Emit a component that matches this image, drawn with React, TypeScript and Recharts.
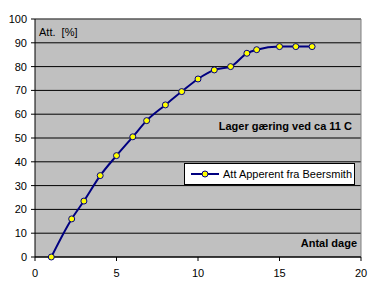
import React from "react";
import {
  LineChart,
  Line,
  XAxis,
  YAxis,
  CartesianGrid,
  ReferenceLine,
} from "recharts";

const days = [1, 2.25, 3, 4, 5, 6, 6.85, 8, 9, 10, 11, 12, 13, 13.6, 15, 16, 17];
const attenuation = [0, 16, 23.5, 34.2, 42.6, 50.5, 57.3, 63.9, 69.5, 74.8, 78.6, 80, 85.6, 87.1, 88.4, 88.4, 88.4];
const xTicks = [0, 5, 10, 15, 20];
const yTicks = [0, 10, 20, 30, 40, 50, 60, 70, 80, 90, 100];
const seriesName = "Att Apperent fra Beersmith";
const yTitle = "Att.  [%]";
const noteText = "Lager gæring ved ca 11 C";
const xTitle = "Antal dage";

const data = days.map((d, i) => ({ day: d, att: attenuation[i] }));

const FONT = "'Liberation Sans', Arial, sans-serif";

const LegendBox = () => (
  <div
    style={{
      position: "absolute",
      left: 184,
      top: 163,
      boxSizing: "border-box",
      width: 171,
      height: 22,
      background: "#fff",
      border: "1px solid #000",
      display: "flex",
      alignItems: "center",
      fontFamily: FONT,
      fontSize: 11,
      color: "#000",
      whiteSpace: "nowrap",
    }}
  >
    <svg width={36} height={10} style={{ marginLeft: 5 }}>
      <line x1={1} y1={5} x2={29} y2={5} stroke="#000080" strokeWidth={2} />
      <circle cx={15} cy={5} r={3} fill="#FFFF00" stroke="#000080" strokeWidth={1} />
    </svg>
    <span style={{ marginLeft: -3 }}>{seriesName}</span>
  </div>
);

export default function App() {
  return (
    <div style={{ position: "absolute", left: 0, top: 0, width: 380, height: 284, background: "#fff" }}>
      <LineChart
        width={380}
        height={284}
        data={data}
        margin={{ top: 19, right: 19, bottom: 0, left: 0 }}
      >
        <CartesianGrid
          vertical={false}
          stroke="#000"
          strokeWidth={1}
          fill="#C0C0C0"
          fillOpacity={1}
        />
        <XAxis
          type="number"
          dataKey="day"
          domain={[0, 20]}
          ticks={xTicks}
          height={27}
          stroke="#000"
          tickSize={4}
          tickMargin={8}
          tick={{ fill: "#000", fontSize: 11, fontFamily: FONT }}
          interval={0}
        />
        <YAxis
          type="number"
          domain={[0, 100]}
          ticks={yTicks}
          width={35}
          stroke="#000"
          tickSize={4}
          tickMargin={4}
          tick={{ fill: "#000", fontSize: 11, fontFamily: FONT }}
          interval={0}
        />
        <ReferenceLine y={100} stroke="#808080" strokeWidth={1} />
        <ReferenceLine x={20} stroke="#808080" strokeWidth={1} />
        <Line
          type="monotone"
          dataKey="att"
          name={seriesName}
          stroke="#000080"
          strokeWidth={2}
          dot={{ r: 3, fill: "#FFFF00", stroke: "#000080", strokeWidth: 1 }}
          activeDot={false}
          isAnimationActive={false}
        />
      </LineChart>
      <LegendBox />
      <div style={{ position: "absolute", left: 39, top: 26, fontFamily: FONT, fontSize: 11, color: "#000", whiteSpace: "pre" }}>
        {yTitle}
      </div>
      <div style={{ position: "absolute", right: 380 - 352, top: 120, fontFamily: FONT, fontSize: 11, fontWeight: "bold", color: "#000", whiteSpace: "nowrap" }}>
        {noteText}
      </div>
      <div style={{ position: "absolute", right: 380 - 357, top: 237, fontFamily: FONT, fontSize: 11, fontWeight: "bold", color: "#000", whiteSpace: "nowrap" }}>
        {xTitle}
      </div>
    </div>
  );
}
